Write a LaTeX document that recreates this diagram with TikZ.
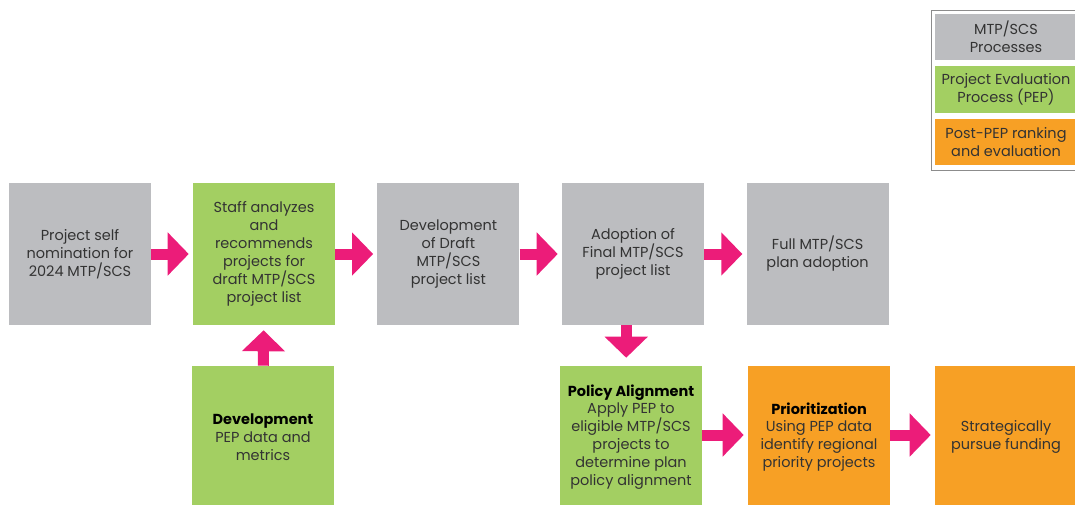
\documentclass[tikz,border=0pt]{standalone}
\usepackage{fontspec}
\setmainfont{Poppins}
\usetikzlibrary{arrows.meta}
\definecolor{boxgray}{HTML}{BCBDC0}
\definecolor{boxgreen}{HTML}{A3CF62}
\definecolor{boxorange}{HTML}{F7A025}
\definecolor{arrowpink}{HTML}{EC1C79}
\definecolor{textgray}{HTML}{333333}
\definecolor{framegray}{HTML}{8C8C8C}
\begin{document}
\begin{tikzpicture}[
  stepbox/.style={minimum width=3.55cm, minimum height=3.55cm, inner sep=0pt,
    align=center, text=textgray, font=\fontsize{10.3}{12.76}\selectfont},
  mtpbox/.style={stepbox, fill=boxgray},
  pepbox/.style={stepbox, fill=boxgreen},
  postbox/.style={stepbox, fill=boxorange},
  keybox/.style={stepbox, minimum height=1.17cm},
  pinkarrow/.style={draw=arrowpink, line width=0.275cm,
    -{Triangle[length=0.525cm, width=1.05cm]}, shorten >=0.1cm},
  heading/.style={font=\bfseries, text=black}
]
\clip (0, 0) rectangle (26.875, 12.6);
% legend
\draw [framegray, line width=0.6pt, fill=white] (23.275, 8.35) rectangle (27.2, 12.35);
\node [keybox, fill=boxgray] (keympt) at (25.15, 11.675) {MTP/SCS\\Processes};
\node [keybox, fill=boxgreen] (keypep) at (25.15, 10.36) {Project Evaluation\\Process (PEP)};
\node [keybox, fill=boxorange] (keypost) at (25.15, 9.05) {Post-PEP ranking\\and evaluation};
% top row
\node [mtpbox] (nominate) at (2.0, 6.25) {Project self\\nomination for\\2024 MTP/SCS};
\node [pepbox] (analyze) at (6.6, 6.25) {Staff analyzes\\and\\recommends\\projects for\\draft MTP/SCS\\project list};
\node [mtpbox] (draft) at (11.21, 6.25) {Development\\of Draft\\MTP/SCS\\project list};
\node [mtpbox] (adopt) at (15.825, 6.25) {Adoption of\\Final MTP/SCS\\project list};
\node [mtpbox] (plan) at (20.44, 6.25) {Full MTP/SCS\\plan adoption};
% bottom row
\node [pepbox] (develop) at (6.575, 1.675) {{\bfseries\color{black}Development}\\PEP data and\\metrics};
\node [pepbox] (policy) at (15.775, 1.675) {{\bfseries\color{black}Policy Alignment}\\Apply PEP to\\eligible MTP/SCS\\projects to\\determine plan\\policy alignment};
\node [postbox] (prior) at (20.475, 1.675) {{\bfseries\color{black}Prioritization}\\Using PEP data\\identify regional\\priority projects};
\node [postbox] (fund) at (25.15, 1.675) {Strategically\\pursue funding};
% arrows
\draw [pinkarrow] (nominate) -- (analyze);
\draw [pinkarrow] (analyze) -- (draft);
\draw [pinkarrow] (draft) -- (adopt);
\draw [pinkarrow] (adopt) -- (plan);
\draw [pinkarrow, shorten >=0.125cm] (develop) -- (analyze);
\draw [pinkarrow, shorten >=0.2cm] ([xshift=-0.17cm]adopt.south) -- ([xshift=-0.17cm]adopt.south |- policy.north);
\draw [pinkarrow] ([yshift=0.05cm]policy.east) -- ([yshift=0.05cm]prior.west);
\draw [pinkarrow] ([yshift=0.05cm]prior.east) -- ([yshift=0.05cm]fund.west);
\end{tikzpicture}
\end{document}
